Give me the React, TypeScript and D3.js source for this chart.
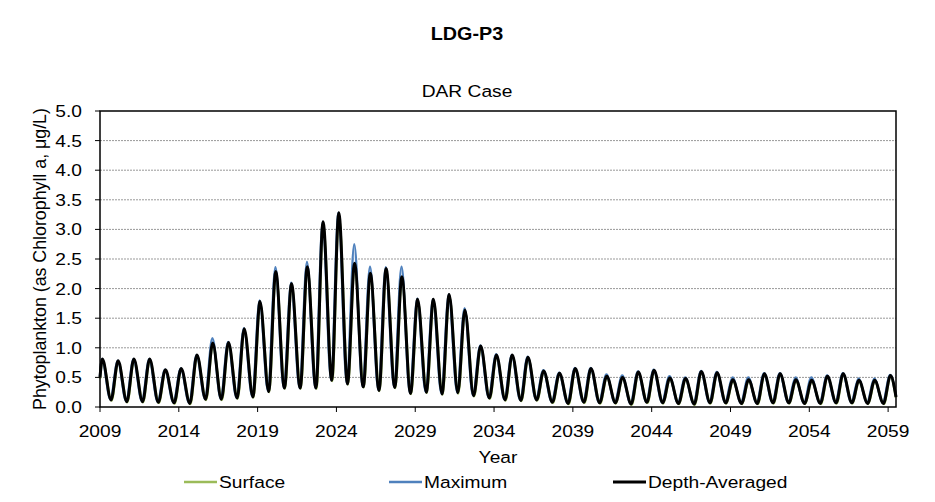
import * as d3 from 'd3';

// Seasonal cycle: one bloom peak (late Feb) and one trough (autumn) per year
const firstYear = 2009;
const lastTime = 2059.5;
const xTicks = [2009, 2014, 2019, 2024, 2029, 2034, 2039, 2044, 2049, 2054, 2059];
const yTicks = [0, 0.5, 1, 1.5, 2, 2.5, 3, 3.5, 4, 4.5, 5];

// Depth-Averaged (2009..2059 peaks, 2009..2058 troughs)
const depthPeaks = [
  0.81, 0.78, 0.81, 0.81, 0.63, 0.65, 0.88, 1.08, 1.09, 1.32,
  1.78, 2.29, 2.08, 2.37, 3.13, 3.28, 2.43, 2.26, 2.34, 2.2,
  1.82, 1.82, 1.9, 1.64, 1.03, 0.88, 0.88, 0.84, 0.61, 0.57,
  0.65, 0.65, 0.52, 0.5, 0.59, 0.62, 0.49, 0.48, 0.6, 0.58,
  0.46, 0.46, 0.56, 0.56, 0.46, 0.45, 0.52, 0.56, 0.45, 0.45,
  0.53,
];
const depthTroughs = [
  0.12, 0.09, 0.09, 0.08, 0.07, 0.06, 0.13, 0.13, 0.15, 0.17,
  0.26, 0.32, 0.32, 0.32, 0.45, 0.39, 0.34, 0.28, 0.33, 0.23,
  0.25, 0.22, 0.24, 0.19, 0.15, 0.12, 0.11, 0.12, 0.08, 0.06,
  0.08, 0.07, 0.07, 0.05, 0.08, 0.07, 0.06, 0.05, 0.07, 0.07,
  0.06, 0.06, 0.07, 0.07, 0.06, 0.06, 0.07, 0.07, 0.06, 0.06,
];

// Maximum
const maxPeaks = [
  0.81, 0.78, 0.81, 0.81, 0.63, 0.65, 0.88, 1.16, 1.1, 1.33,
  1.8, 2.36, 2.1, 2.45, 3.13, 3.28, 2.75, 2.37, 2.36, 2.37,
  1.83, 1.82, 1.9, 1.67, 1.04, 0.89, 0.88, 0.85, 0.62, 0.58,
  0.66, 0.66, 0.55, 0.53, 0.6, 0.63, 0.52, 0.5, 0.61, 0.59,
  0.5, 0.5, 0.57, 0.57, 0.5, 0.5, 0.53, 0.57, 0.48, 0.48,
  0.54,
];
const maxTroughs = [
  0.13, 0.1, 0.1, 0.09, 0.08, 0.07, 0.14, 0.14, 0.16, 0.18,
  0.27, 0.33, 0.33, 0.33, 0.46, 0.4, 0.35, 0.29, 0.34, 0.24,
  0.26, 0.23, 0.25, 0.2, 0.16, 0.13, 0.12, 0.13, 0.09, 0.07,
  0.09, 0.08, 0.08, 0.06, 0.09, 0.08, 0.07, 0.06, 0.08, 0.08,
  0.07, 0.07, 0.08, 0.08, 0.07, 0.07, 0.08, 0.08, 0.07, 0.07,
];

// Surface
const surfPeaks = [
  0.79, 0.76, 0.79, 0.79, 0.61, 0.63, 0.86, 1.06, 1.07, 1.3,
  1.76, 2.27, 2.06, 2.35, 3.1, 3.25, 2.41, 2.24, 2.32, 2.18,
  1.8, 1.8, 1.88, 1.62, 1.01, 0.86, 0.86, 0.82, 0.59, 0.55,
  0.63, 0.63, 0.5, 0.48, 0.57, 0.6, 0.47, 0.46, 0.58, 0.56,
  0.44, 0.44, 0.54, 0.54, 0.44, 0.43, 0.5, 0.54, 0.43, 0.43,
  0.51,
];
const surfTroughs = [
  0.11, 0.08, 0.08, 0.07, 0.06, 0.05, 0.12, 0.12, 0.14, 0.16,
  0.25, 0.31, 0.31, 0.31, 0.44, 0.38, 0.33, 0.27, 0.32, 0.22,
  0.24, 0.21, 0.23, 0.18, 0.14, 0.11, 0.1, 0.11, 0.07, 0.05,
  0.07, 0.06, 0.06, 0.04, 0.07, 0.06, 0.05, 0.04, 0.06, 0.06,
  0.05, 0.05, 0.06, 0.06, 0.05, 0.05, 0.06, 0.06, 0.05, 0.05,
];

const seriesList = [
  { name: 'Surface', color: '#9BBB59', width: 2.5, peaks: surfPeaks, troughs: surfTroughs, start: 0.48, end: 0.16, peakAt: 0.15, troughAt: 0.73 },
  { name: 'Maximum', color: '#4F81BD', width: 2.5, peaks: maxPeaks, troughs: maxTroughs, start: 0.52, end: 0.19, peakAt: 0.13, troughAt: 0.66 },
  { name: 'Depth-Averaged', color: '#000000', width: 3, peaks: depthPeaks, troughs: depthTroughs, start: 0.5, end: 0.17, peakAt: 0.15, troughAt: 0.7 },
];

type Pt = { t: number; v: number };

function buildPoints(s: typeof seriesList[0]): Pt[] {
  const pts: Pt[] = [{ t: firstYear, v: s.start }];
  s.peaks.forEach((p, i) => {
    pts.push({ t: firstYear + i + s.peakAt, v: p });
    if (i < s.troughs.length) pts.push({ t: firstYear + i + s.troughAt, v: s.troughs[i] });
  });
  pts.push({ t: lastTime, v: s.end });
  return pts;
}

const W = 935;
const H = 502;
const margin = { left: 100, right: 39, top: 111, bottom: 95 };
const font = 'Liberation Sans, Arial, sans-serif';
const fs = 17;
const stretch = 1.13; // the source text is a bit wider than Arial

// horizontal text, slightly widened
const T = ({ x, y, anchor = 'middle', children, size = fs, weight = 'normal' }: any) => (
  <text transform={`translate(${x},${y}) scale(${stretch},1)`} textAnchor={anchor}
    fontFamily={font} fontSize={size} fontWeight={weight}>{children}</text>
);

export default function App() {
  const x = d3.scaleLinear().domain([firstYear, lastTime]).range([margin.left, W - margin.right]);
  const y = d3.scaleLinear().domain([0, 5]).range([H - margin.bottom, margin.top]);
  const line = d3.line<Pt>().x(d => x(d.t)).y(d => y(d.v)).curve(d3.curveMonotoneX);

  const x0 = margin.left;
  const x1 = W - margin.right;
  const y0 = H - margin.bottom;
  const y1 = margin.top;

  const legendX = [184, 389, 613];

  return (
    <svg width={W} height={H} style={{ position: 'absolute', left: 0, top: 0, background: '#fff' }}>
      <T x={467} y={40} size={17.5} weight="bold">LDG-P3</T>
      <T x={467} y={97}>DAR Case</T>

      {/* gridlines */}
      {yTicks.slice(1, -1).map(t => (
        <line key={t} x1={x0} x2={x1} y1={y(t)} y2={y(t)} stroke="#999" strokeWidth={1} strokeDasharray="2,1" />
      ))}

      {/* series */}
      {seriesList.map(s => (
        <path key={s.name} d={line(buildPoints(s)) || ''} fill="none" stroke={s.color} strokeWidth={s.width} strokeLinejoin="round" />
      ))}

      {/* frame */}
      <rect x={x0} y={y1} width={x1 - x0} height={y0 - y1} fill="none" stroke="#000" strokeWidth={1.5} />

      {/* y axis */}
      {yTicks.map(t => (
        <g key={t}>
          <line x1={x0 - 5} x2={x0} y1={y(t)} y2={y(t)} stroke="#000" strokeWidth={1} />
          <T x={x0 - 18} y={y(t) + 6} anchor="end">{t.toFixed(1)}</T>
        </g>
      ))}
      <text transform={`translate(46,${(y0 + y1) / 2}) rotate(-90)`} textAnchor="middle" fontFamily={font} fontSize={17.8}>
        Phytoplankton (as Chlorophyll a, μg/L)
      </text>

      {/* x axis */}
      {xTicks.map(t => (
        <g key={t}>
          <line x1={x(t)} x2={x(t)} y1={y0} y2={y0 + 5} stroke="#000" strokeWidth={1} />
          <T x={x(t)} y={y0 + 30}>{t}</T>
        </g>
      ))}
      <T x={(x0 + x1) / 2} y={y0 + 56}>Year</T>

      {/* legend */}
      {seriesList.map((s, i) => (
        <g key={s.name}>
          <line x1={legendX[i]} x2={legendX[i] + 33} y1={482} y2={482} stroke={s.color} strokeWidth={s.width} />
          <T x={legendX[i] + 35} y={488} anchor="start">{s.name}</T>
        </g>
      ))}
    </svg>
  );
}
